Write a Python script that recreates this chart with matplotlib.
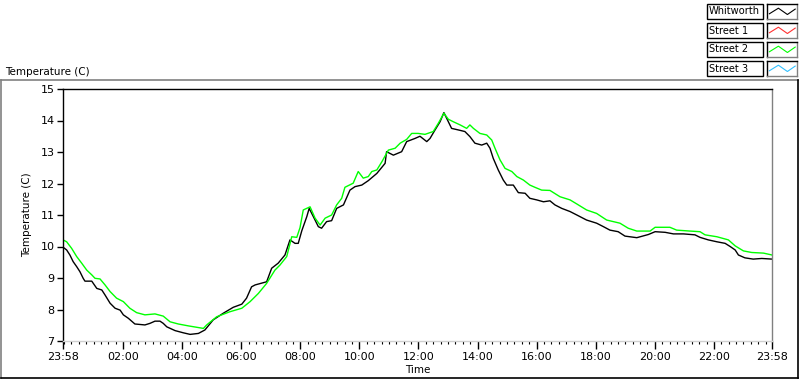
import matplotlib
matplotlib.use("Agg")
import matplotlib.pyplot as plt
from matplotlib.lines import Line2D
from matplotlib.patches import Rectangle
from matplotlib.ticker import FixedLocator, MultipleLocator

# hours after midnight (23:58 of the day before = -2/60)
whit_t = [-0.033, 0.09, 0.20, 0.31, 0.43, 0.54, 0.65, 0.71, 0.94, 1.11, 1.28, 1.39, 1.56, 1.73,
          1.90, 2.01, 2.18, 2.40, 2.74, 2.91, 3.08, 3.25, 3.36, 3.48, 3.76, 4.04, 4.27, 4.55,
          4.77, 5.05, 5.39, 5.73, 6.02, 6.18, 6.35, 6.47, 6.86, 7.03, 7.25, 7.48, 7.65, 7.82,
          7.93, 8.05, 8.22, 8.30, 8.44, 8.61, 8.72, 8.89, 9.06, 9.23, 9.46, 9.68, 9.85, 10.08,
          10.30, 10.59, 10.87, 10.92, 11.15, 11.43, 11.60, 11.88, 12.05, 12.28, 12.39, 12.56,
          12.73, 12.86, 12.98, 13.12, 13.35, 13.57, 13.74, 13.91, 14.14, 14.31, 14.42, 14.53,
          14.70, 14.87, 14.99, 15.21, 15.38, 15.61, 15.77, 16.00, 16.23, 16.45, 16.62, 16.85,
          17.13, 17.36, 17.69, 18.03, 18.26, 18.48, 18.76, 18.99, 19.39, 19.78, 20.01, 20.35,
          20.63, 20.97, 21.36, 21.53, 21.81, 22.10, 22.38, 22.55, 22.72, 22.83, 23.05, 23.33,
          23.62, 23.967]
whit_v = [9.98, 9.89, 9.73, 9.52, 9.36, 9.20, 8.99, 8.90, 8.90, 8.67, 8.62, 8.46, 8.20, 8.04,
          7.98, 7.83, 7.72, 7.54, 7.51, 7.56, 7.63, 7.63, 7.56, 7.45, 7.33, 7.26, 7.21, 7.24,
          7.35, 7.67, 7.88, 8.07, 8.17, 8.36, 8.72, 8.78, 8.88, 9.31, 9.47, 9.73, 10.21, 10.10,
          10.10, 10.50, 10.95, 11.21, 10.95, 10.63, 10.58, 10.79, 10.82, 11.21, 11.32, 11.79,
          11.90, 11.95, 12.09, 12.32, 12.64, 13.01, 12.90, 13.01, 13.33, 13.43, 13.50, 13.33,
          13.43, 13.70, 13.96, 14.25, 14.02, 13.75, 13.70, 13.65, 13.49, 13.28, 13.22, 13.28,
          13.12, 12.80, 12.43, 12.11, 11.95, 11.95, 11.71, 11.69, 11.53, 11.48, 11.42, 11.45,
          11.32, 11.21, 11.11, 11.00, 10.84, 10.74, 10.63, 10.52, 10.47, 10.33, 10.28, 10.38,
          10.47, 10.45, 10.40, 10.40, 10.37, 10.29, 10.21, 10.15, 10.10, 10.00, 9.89, 9.73,
          9.64, 9.60, 9.62, 9.60]

street2_t = [-0.033, 0.09, 0.26, 0.43, 0.60, 0.77, 0.94, 1.05, 1.22, 1.39, 1.56, 1.78, 2.01,
             2.23, 2.46, 2.74, 3.08, 3.36, 3.59, 3.87, 4.21, 4.72, 4.83, 5.17, 5.62, 6.02, 6.30,
             6.58, 6.86, 7.14, 7.31, 7.54, 7.71, 7.88, 7.99, 8.10, 8.33, 8.50, 8.67, 8.84, 9.06,
             9.23, 9.40, 9.51, 9.79, 9.96, 10.13, 10.30, 10.42, 10.59, 10.76, 10.98, 11.21,
             11.38, 11.60, 11.77, 11.99, 12.22, 12.50, 12.67, 12.86, 13.01, 13.18, 13.41, 13.63,
             13.74, 13.86, 14.08, 14.31, 14.48, 14.59, 14.76, 14.93, 15.16, 15.33, 15.55, 15.77,
             15.94, 16.17, 16.45, 16.79, 17.13, 17.36, 17.69, 18.03, 18.37, 18.82, 19.10, 19.39,
             19.84, 20.01, 20.51, 20.74, 21.19, 21.53, 21.70, 22.10, 22.49, 22.72, 23.00, 23.28,
             23.68, 23.967]
street2_v = [10.21, 10.15, 9.94, 9.68, 9.47, 9.25, 9.10, 8.99, 8.97, 8.78, 8.57, 8.36, 8.25,
             8.04, 7.90, 7.83, 7.86, 7.79, 7.61, 7.54, 7.48, 7.40, 7.51, 7.77, 7.93, 8.04, 8.25,
             8.51, 8.83, 9.25, 9.41, 9.68, 10.31, 10.29, 10.60, 11.16, 11.26, 10.90, 10.68, 10.90,
             11.00, 11.32, 11.53, 11.88, 12.01, 12.38, 12.17, 12.22, 12.38, 12.43, 12.69, 13.06,
             13.12, 13.28, 13.40, 13.59, 13.59, 13.56, 13.65, 13.91, 14.23, 14.04, 13.96, 13.86,
             13.75, 13.86, 13.75, 13.59, 13.54, 13.38, 13.12, 12.75, 12.48, 12.38, 12.22, 12.11,
             11.95, 11.88, 11.79, 11.78, 11.58, 11.48, 11.35, 11.16, 11.05, 10.84, 10.74, 10.58,
             10.49, 10.49, 10.61, 10.61, 10.52, 10.49, 10.47, 10.37, 10.31, 10.21, 10.02, 9.86,
             9.81, 9.79, 9.73]

x_ticks = [-2 / 60, 2, 4, 6, 8, 10, 12, 14, 16, 18, 20, 22, 24 - 2 / 60]
x_labels = ["23:58", "02:00", "04:00", "06:00", "08:00", "10:00", "12:00", "14:00",
            "16:00", "18:00", "20:00", "22:00", "23:58"]
legend_names = ["Whitworth", "Street 1", "Street 2", "Street 3"]
legend_colors = ["#000000", "#ff3030", "#00ff00", "#30c0ff"]

plt.rcParams["font.family"] = ["DejaVu Sans"]
plt.rcParams["font.size"] = 7.5

W, H = 800, 380
fig = plt.figure(figsize=(W / 100, H / 100), dpi=100)


def fx(px):
    return px / W


def fy(py):
    return 1 - py / H


# outer frame of the graph panel
fig.add_artist(Line2D([fx(1), fx(798)], [fy(80), fy(80)], color="#808080", lw=1.2))
fig.add_artist(Line2D([fx(1), fx(1)], [fy(80), fy(378)], color="#808080", lw=1.2))
fig.add_artist(Line2D([fx(1), fx(798)], [fy(378), fy(378)], color="black", lw=1.2))
fig.add_artist(Line2D([fx(798), fx(798)], [fy(80), fy(378)], color="black", lw=1.2))

ax = fig.add_axes([fx(63), fy(341), fx(772) - fx(63), fy(89) - fy(341)])
ax.plot(whit_t, whit_v, color=legend_colors[0], lw=1.0)
ax.plot(street2_t, street2_v, color=legend_colors[2], lw=1.0)

ax.set_xlim(x_ticks[0], x_ticks[-1])
ax.set_ylim(7, 15)
ax.set_yticks(range(7, 16))
ax.xaxis.set_major_locator(FixedLocator(x_ticks))
ax.set_xticklabels(x_labels)
ax.xaxis.set_minor_locator(MultipleLocator(0.25))
ax.tick_params(axis="x", which="major", length=6, width=1, pad=2, labelsize=8)
ax.tick_params(axis="x", which="minor", length=2.5, width=0.8)
ax.tick_params(axis="y", which="major", length=4, width=1, pad=2, labelsize=8)

ax.spines["left"].set_color("black")
ax.spines["top"].set_color("black")
ax.spines["right"].set_color("#808080")
ax.spines["bottom"].set_color("#d0d0d0")
for s in ax.spines.values():
    s.set_linewidth(1.0)

ax.set_xlabel("Time", fontsize=7.5, labelpad=2)
ax.set_ylabel("Temperature (C)", fontsize=7.5, labelpad=6)
fig.text(fx(5), fy(72), "Temperature (C)", fontsize=7.5, va="center", ha="left")

# legend (plot legend in the top right)
row_top = [4, 23, 42, 61]
for name, col, top in zip(legend_names, legend_colors, row_top):
    fig.add_artist(Rectangle((fx(707), fy(top + 15)), fx(763) - fx(707), fy(top) - fy(top + 15),
                             transform=fig.transFigure, fill=True, facecolor="white",
                             edgecolor="black", lw=1.0))
    fig.text(fx(709), fy(top + 7.5), name, fontsize=7.1, va="center", ha="left")
    sax = fig.add_axes([fx(767), fy(top + 15), fx(797) - fx(767), fy(top) - fy(top + 15)])
    sax.plot([0.08, 0.38, 0.68, 0.94], [0.35, 0.72, 0.3, 0.66], color=col, lw=0.8)
    sax.set_xlim(0, 1)
    sax.set_ylim(0, 1)
    sax.set_xticks([])
    sax.set_yticks([])
    for s in sax.spines.values():
        s.set_linewidth(1.0)
    sax.spines["right"].set_color("#808080")
    sax.spines["bottom"].set_color("#808080")

fig.savefig("out.png", dpi=100)
